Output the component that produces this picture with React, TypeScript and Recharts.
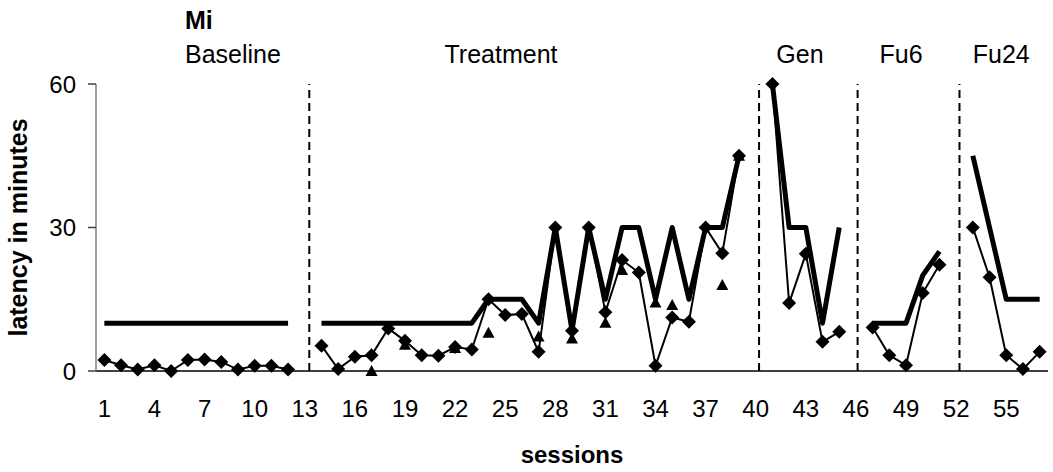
import {
  Label,
  Line,
  LineChart,
  ReferenceLine,
  XAxis,
  YAxis,
} from "recharts";

// sessions 1..57, null = no session in that slot (phase change)
const sessions = Array.from({ length: 57 }, (_, i) => i + 1);

// thick line (no markers)
const criterion = [
  10, 10, 10, 10, 10, 10, 10, 10, 10, 10, 10, 10,
  null,
  10, 10, 10, 10, 10, 10, 10, 10, 10, 10,
  15, 15, 15, 10, 30, 8.5, 30, 15, 30, 30, 15, 30, 15, 30, 30, 45,
  null,
  60, 30, 30, 10, 30,
  null,
  10, 10, 10, 20, 25,
  null,
  45, 30, 15, 15, 15,
];

// thin line with diamonds
const latency = [
  2.3, 1.2, 0.3, 1.2, 0, 2.3, 2.4, 1.9, 0.3, 1.1, 1.1, 0.3,
  null,
  5.3, 0.4, 3.0, 3.3, 8.9, 6.3, 3.3, 3.2, 5.0, 4.5,
  15, 11.7, 11.9, 4.0, 30, 8.4, 30, 12.3, 23.2, 20.6, 1.1, 11.2, 10.3, 30, 24.6, 45,
  null,
  60, 14.2, 24.5, 6.1, 8.2,
  null,
  9.1, 3.3, 1.2, 16.3, 22.2,
  null,
  30, 19.6, 3.3, 0.4, 4.0,
];

// triangles, only in some treatment sessions
const triSessions = [17, 19, 22, 24, 27, 29, 31, 32, 34, 35, 38, 39];
const triValues = [0, 5.5, 4.8, 8.0, 7.2, 6.8, 10.1, 21.1, 14.3, 13.8, 18.0, 45];

const xTickLabels = [1, 4, 7, 10, 13, 16, 19, 22, 25, 28, 31, 34, 37, 40, 43, 46, 49, 52, 55];
const yTicks = [0, 30, 60];

const phaseNames = ["Baseline", "Treatment", "Gen", "Fu6", "Fu24"];
const phaseLabelAt = [8.7, 24.75, 42.65, 48.7, 54.7];
const phaseDividers = [13.27, 40.2, 46.1, 52.2];

const data = sessions.map((s, i) => {
  const t = triSessions.indexOf(s);
  return {
    session: s,
    criterion: criterion[i],
    latency: latency[i],
    tri: t >= 0 ? triValues[t] : null,
  };
});

// tick marks sit between sessions, like an Excel category axis
const boundaries = [...sessions.map((s) => s - 0.5), 57.5];

const font = "'Liberation Sans', Arial, sans-serif";

const renderDiamond = (p: any) => {
  const { cx, cy, value, index } = p;
  if (value == null || cy == null || isNaN(cy)) return <g key={`d${index}`} />;
  const r = 7;
  return (
    <polygon
      key={`d${index}`}
      points={`${cx},${cy - r} ${cx + r},${cy} ${cx},${cy + r} ${cx - r},${cy}`}
      fill="#000"
    />
  );
};

const renderTriangle = (p: any) => {
  const { cx, cy, value, index } = p;
  if (value == null || cy == null || isNaN(cy)) return <g key={`t${index}`} />;
  return (
    <polygon
      key={`t${index}`}
      points={`${cx},${cy - 6} ${cx + 6},${cy + 5} ${cx - 6},${cy + 5}`}
      fill="#000"
    />
  );
};

export default function App() {
  return (
    <div style={{ position: "absolute", left: 0, top: 0 }}>
      <LineChart
        width={1053}
        height={472}
        data={data}
        margin={{ top: 84, right: 5, bottom: 0, left: 0 }}
        style={{ fontFamily: font }}
      >
        <XAxis
          dataKey="session"
          type="number"
          domain={[0.5, 57.5]}
          ticks={boundaries}
          interval={0}
          tick={false}
          tickSize={9}
          height={9}
          axisLine={{ stroke: "#000", strokeWidth: 1.5 }}
          tickLine={{ stroke: "#808080", strokeWidth: 1.5 }}
        />
        <XAxis
          xAxisId="labels"
          dataKey="session"
          type="number"
          domain={[0.5, 57.5]}
          ticks={xTickLabels}
          interval={0}
          axisLine={false}
          tickLine={false}
          tickSize={0}
          tickMargin={20}
          height={92}
          tick={{ fontSize: 24, fill: "#000", fontFamily: font }}
        >
          <Label
            value="sessions"
            position="insideBottom"
            offset={9}
            style={{ fontSize: 24, fontWeight: "bold", fill: "#000", fontFamily: font }}
          />
        </XAxis>
        <YAxis
          type="number"
          domain={[0, 60]}
          ticks={yTicks}
          interval={0}
          width={96}
          tickSize={8}
          tickMargin={12}
          axisLine={{ stroke: "#808080", strokeWidth: 1.5 }}
          tickLine={{ stroke: "#404040", strokeWidth: 1.5 }}
          tick={{ fontSize: 24, fill: "#000", fontFamily: font }}
        >
          <Label
            value="latency in minutes"
            angle={-90}
            position="center"
            dx={-30}
            style={{ fontSize: 25, fontWeight: "bold", fill: "#000", fontFamily: font, textAnchor: "middle" }}
          />
        </YAxis>

        {phaseDividers.map((x) => (
          <ReferenceLine
            key={`div${x}`}
            x={x}
            stroke="#000"
            strokeWidth={2}
            strokeDasharray="8 5"
          />
        ))}

        <ReferenceLine
          x={6.66}
          stroke="none"
          label={{
            value: "Mi",
            position: "top",
            offset: 55,
            fontSize: 25,
            fontWeight: "bold",
            fill: "#000",
            fontFamily: font,
          }}
        />
        {phaseNames.map((name, i) => (
          <ReferenceLine
            key={name}
            x={phaseLabelAt[i]}
            stroke="none"
            label={{
              value: name,
              position: "top",
              offset: 21,
              fontSize: 25,
              fill: "#000",
              fontFamily: font,
            }}
          />
        ))}

        <Line
          dataKey="criterion"
          stroke="#000"
          strokeWidth={5}
          dot={false}
          activeDot={false}
          isAnimationActive={false}
          strokeLinejoin="round"
        />
        <Line
          dataKey="latency"
          stroke="#000"
          strokeWidth={2}
          dot={renderDiamond}
          activeDot={false}
          isAnimationActive={false}
        />
        <Line
          dataKey="tri"
          stroke="none"
          dot={renderTriangle}
          activeDot={false}
          isAnimationActive={false}
        />
      </LineChart>
    </div>
  );
}
